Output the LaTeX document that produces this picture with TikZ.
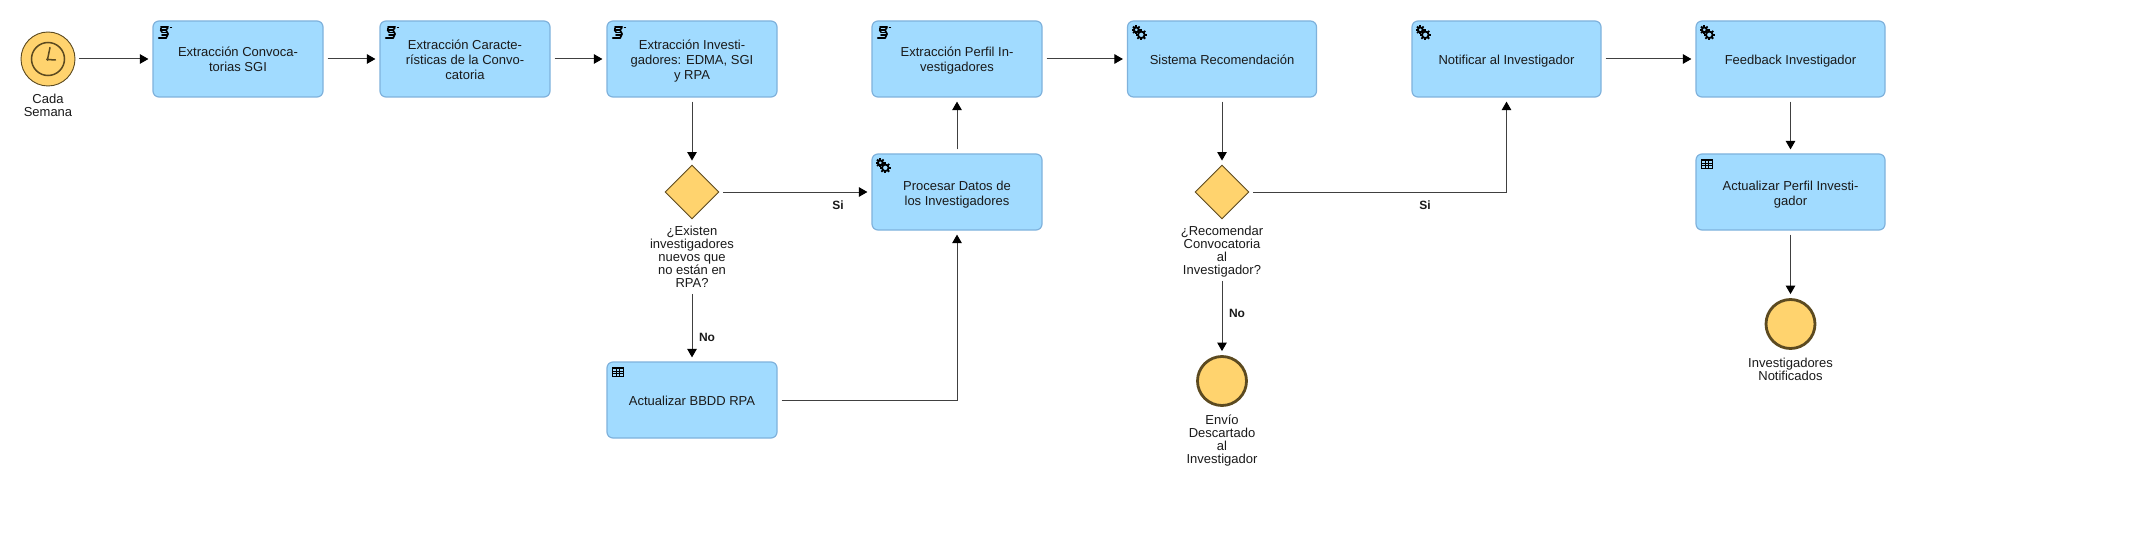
\documentclass[tikz,border=0pt]{standalone}
\usepackage{fontspec}
\setmainfont{Liberation Sans}
\usetikzlibrary{shapes.geometric,arrows.meta,calc}
\definecolor{taskfill}{HTML}{A1DBFF}
\definecolor{taskline}{HTML}{7FB2DC}
\definecolor{gold}{HTML}{FFD36E}
\definecolor{goldline}{HTML}{5C4A20}
\definecolor{ink}{HTML}{1A1A1A}
\newcommand{\lowertext}{\rule{0pt}{15.5pt}}
\tikzset{
  x=1pt,y=-1pt,
  taskbox/.style={draw=taskline,fill=taskfill,line width=1.2pt,rounded corners=6pt,minimum width=#1,minimum height=76pt,inner sep=0pt,align=center,text=ink,font=\fontsize{13}{15}\selectfont},
  taskbox/.default=170pt,
  gate/.style={draw=goldline,fill=gold,line width=.9pt,diamond,aspect=1,minimum width=54pt,minimum height=54pt,inner sep=0pt},
  endevent/.style={draw=goldline,fill=gold,line width=2.8pt,circle,minimum size=49pt,inner sep=0pt},
  startevent/.style={draw=goldline,fill=gold,line width=.9pt,circle,minimum size=54pt,inner sep=0pt},
  lbl/.style={align=center,inner sep=0pt,text=ink,font=\fontsize{13}{13}\selectfont,execute at begin node={\rule{0pt}{13pt}},execute at end node=\strut},
  flowlabel/.style={inner sep=0pt,text=ink,font=\bfseries\fontsize{12}{13}\selectfont},
  flow/.style={draw=black!75,line width=1pt,shorten <=4pt,shorten >=4pt,-{Triangle[length=8.5pt,width=9.5pt,black]}},
}
% icons, drawn about a centre point (local origin)
\newcommand{\scripticon}[1]{%
  \begin{scope}[shift={(#1)},x=1pt,y=-1pt]
    \draw[black,line width=2pt,line cap=round] (-4,-5.5) -- (3,-5.5);
    \draw[black,line width=1.4pt,line cap=round] (5.5,-5.5) -- (6.5,-5.5);
    \draw[black,line width=1.6pt] (-4,-5) .. controls (-6,-3) and (-3,-2) .. (-3,-1) (3,-5) .. controls (-1,-3) and (3,-1) .. (3,1) .. controls (3,3) and (1,4) .. (1,5);
    \draw[black,line width=1.6pt,line cap=round] (-4,-3) -- (1,-3) (-3,-0.5) -- (2.5,-0.5) (-3,2) -- (2.5,2);
    \draw[black,line width=2.5pt,line cap=round] (-6,5) -- (1,5);
  \end{scope}}
\newcommand{\gearicon}[1]{%
  \begin{scope}[shift={(#1)},x=1pt,y=-1pt]
    \foreach \c/\r/\t in {-2.7/-2.7/3.4,2.3/2.3/4.3}{
      \foreach \a in {0,45,...,315}{
        \draw[black,line width=1.8pt] ($(\c,\r)+(\a:\t-1)$) -- ($(\c,\r)+(\a:\t+1.2)$);
      }
      \draw[black,fill=taskfill,line width=1.8pt] (\c,\r) circle[radius=\t-1];
    }
  \end{scope}}
\newcommand{\tableicon}[1]{%
  \begin{scope}[shift={(#1)},x=1pt,y=-1pt]
    \draw[black,line width=1pt] (-5.5,-4.5) rectangle (5.5,4.5);
    \draw[black,line width=2pt] (-5.5,-4) -- (5.5,-4);
    \draw[black,line width=.7pt] (-5.5,-1) -- (5.5,-1) (-5.5,1.7) -- (5.5,1.7) (-1.8,-4.5) -- (-1.8,4.5) (1.8,-4.5) -- (1.8,4.5);
  \end{scope}}
\begin{document}
\begin{tikzpicture}
\useasboundingbox (0,0) rectangle (2131,559);
\fill[white] (0,0) rectangle (2131,559);

% start event
\node[startevent] (start) at (48,59) {};
\draw[goldline,line width=1.5pt] (start.center) circle[radius=16.5];
\draw[goldline,line width=1.5pt,line cap=round] (50,47.5) -- (47.5,59.5) -- (55.5,60);
\fill[goldline] (47.5,59.5) circle[radius=1.5];
\node[lbl] (startl) at (48,107) {Cada\\Semana};

% tasks
\node[taskbox=170pt] (t1) at (238,59) {\lowertext Extracción Convoca-\\torias SGI\strut};
\node[taskbox=170pt] (t2) at (465,59) {\lowertext Extracción Caracte-\\rísticas de la Convo-\\catoria\strut};
\node[taskbox=170pt] (t3) at (692,59) {\lowertext Extracción Investi-\\gadores: EDMA, SGI\\y RPA\strut};
\node[taskbox=170pt] (t4) at (957,59) {\lowertext Extracción Perfil In-\\vestigadores\strut};
\node[taskbox=189pt] (t5) at (1222,59) {\lowertext Sistema Recomendación\strut};
\node[taskbox=189pt] (t6) at (1506.5,59) {\lowertext Notificar al Investigador\strut};
\node[taskbox=189pt] (t7) at (1790.5,59) {\lowertext Feedback Investigador\strut};
\node[taskbox=170pt] (p) at (957,192) {\lowertext Procesar Datos de\\los Investigadores\strut};
\node[taskbox=170pt] (b) at (692,400) {\lowertext Actualizar BBDD RPA\strut};
\node[taskbox=189pt] (u) at (1790.5,192) {\lowertext Actualizar Perfil Investi-\\gador\strut};

% gateways, end events and their labels
\node[gate] (g1) at (692,192) {};
\node[gate] (g2) at (1222,192) {};
\node[lbl] (g1l) at (692,259) {¿Existen\\investigadores\\nuevos que\\no están en\\RPA?};
\node[lbl] (g2l) at (1222,252.5) {¿Recomendar\\Convocatoria\\al\\Investigador?};
\node[endevent] (e1) at (1222,381) {};
\node[endevent] (e2) at (1790.5,324) {};
\node[lbl] (e1l) at (1222,441.5) {Envío\\Descartado\\al\\Investigador};
\node[lbl] (e2l) at (1790.5,371) {Investigadores\\Notificados};

% icons
\scripticon{165,33}
\scripticon{392,33}
\scripticon{619,33}
\scripticon{884,33}
\gearicon{1139,32.5}
\gearicon{1423,32.5}
\gearicon{1707,32.5}
\gearicon{883,165.5}
\tableicon{618,372}
\tableicon{1707,164}

% connectors
\draw[flow] (start) -- (t1);
\draw[flow] (t1) -- (t2);
\draw[flow] (t2) -- (t3);
\draw[flow] (t3) -- (g1);
\draw[flow] (g1) -- (p);
\draw[flow] (p) -- (t4);
\draw[flow] (t4) -- (t5);
\draw[flow] (t5) -- (g2);
\draw[flow] (g2.east) -| (t6.south);
\draw[flow] (t6) -- (t7);
\draw[flow] (t7) -- (u);
\draw[flow] (u) -- (e2);
\draw[flow,shorten <=2pt] (g1l) -- (b);
\draw[flow,shorten <=2pt] (g2l) -- (e1);
\draw[flow] (b.east) -| (p.south);

% flow labels
\node[flowlabel] (si1) at (838,205) {Si};
\node[flowlabel] (si2) at (1425,205) {Si};
\node[flowlabel] (no1) at (707,337) {No};
\node[flowlabel] (no2) at (1237,313) {No};
\end{tikzpicture}
\end{document}
